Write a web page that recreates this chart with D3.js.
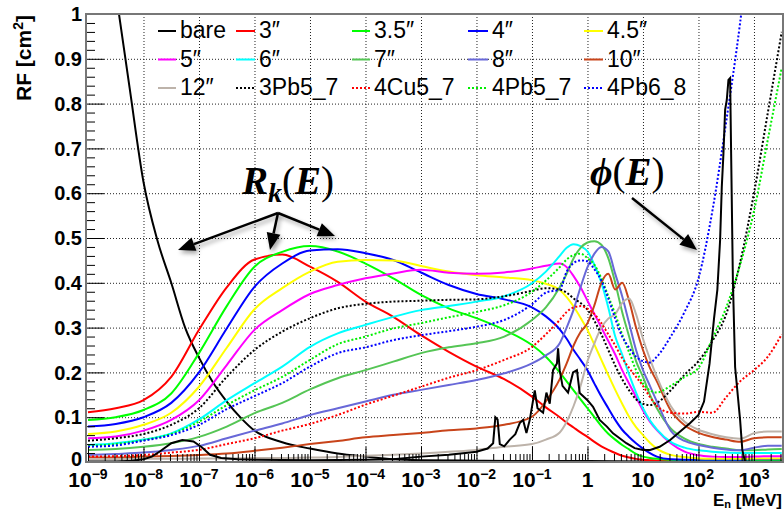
<!DOCTYPE html>
<html><head><meta charset="utf-8">
<script src="https://cdn.jsdelivr.net/npm/d3@7"></script>
<style>body{margin:0;background:#fff}svg{display:block}</style>
</head><body><svg id="c" width="784" height="510"></svg>
<script>
// ---- data (energies as log10(E/MeV)) ----
const logE = [-9,-8.5,-8,-7.5,-7,-6.5,-6,-5.5,-5,-4.5,-4,-3.5,-3,-2.5,-2,-1.5,-1,-0.75,-0.5,-0.375,-0.25,-0.125,0,0.125,0.25,0.375,0.5,0.625,0.75,0.875,1,1.125,1.25,1.5,1.75,2,2.25,2.5,2.75,3,3.25,3.5];
const rf3   = [0.111,0.12,0.138,0.19,0.295,0.39,0.452,0.463,0.436,0.402,0.358,0.324,0.283,0.246,0.213,0.185,0.146,0.122,0.10,0.088,0.077,0.066,0.056,0.045,0.035,0.027,0.02,0.014,0.01,0.007,0.005,0.004,0.003,0.002,0.002,0.002,0.002,0.002,0.002,0.002,0.002,0.002];
const rf35  = [0.094,0.10,0.116,0.153,0.243,0.348,0.436,0.469,0.482,0.47,0.443,0.41,0.373,0.343,0.321,0.295,0.261,0.235,0.2,0.18,0.16,0.14,0.12,0.1,0.08,0.063,0.05,0.038,0.028,0.018,0.012,0.009,0.007,0.005,0.004,0.003,0.003,0.003,0.003,0.003,0.003,0.003];
const rf4   = [0.079,0.085,0.10,0.132,0.2,0.298,0.391,0.443,0.472,0.475,0.466,0.451,0.423,0.395,0.375,0.363,0.345,0.325,0.296,0.275,0.25,0.228,0.205,0.175,0.146,0.12,0.094,0.072,0.056,0.042,0.03,0.02,0.012,0.006,0.005,0.005,0.005,0.005,0.005,0.006,0.006,0.006];
const rf45  = [0.0625,0.068,0.083,0.11,0.168,0.255,0.341,0.388,0.425,0.447,0.451,0.45,0.4375,0.425,0.417,0.412,0.406,0.398,0.384,0.368,0.347,0.322,0.295,0.262,0.228,0.194,0.161,0.13,0.101,0.078,0.06,0.043,0.03,0.016,0.011,0.008,0.007,0.007,0.007,0.008,0.008,0.008];
const rf5   = [0.053,0.057,0.07,0.094,0.138,0.2165,0.295,0.339,0.375,0.395,0.41,0.421,0.429,0.4225,0.42,0.423,0.432,0.438,0.443,0.435,0.415,0.39,0.36,0.33,0.3,0.27,0.24,0.205,0.175,0.145,0.115,0.09,0.071,0.042,0.023,0.015,0.012,0.011,0.011,0.012,0.013,0.013];
const rf6   = [0.038,0.042,0.05,0.064,0.095,0.138,0.176,0.213,0.257,0.287,0.306,0.324,0.339,0.348,0.358,0.37,0.399,0.425,0.46,0.478,0.486,0.482,0.47,0.44,0.4,0.345,0.28,0.24,0.195,0.155,0.12,0.093,0.073,0.045,0.032,0.026,0.023,0.021,0.02,0.02,0.02,0.02];
const rf7   = [0.027,0.029,0.034,0.042,0.056,0.079,0.109,0.132,0.162,0.187,0.205,0.224,0.243,0.256,0.265,0.28,0.317,0.345,0.39,0.42,0.455,0.478,0.49,0.493,0.485,0.455,0.4,0.335,0.28,0.225,0.19,0.15,0.12,0.075,0.052,0.04,0.034,0.03,0.026,0.026,0.028,0.029];
const rf8   = [0.0156,0.018,0.021,0.027,0.036,0.053,0.07,0.086,0.105,0.12,0.135,0.15,0.161,0.172,0.183,0.198,0.22,0.238,0.265,0.3,0.34,0.39,0.435,0.465,0.48,0.47,0.42,0.37,0.31,0.25,0.205,0.17,0.135,0.07,0.047,0.038,0.032,0.028,0.026,0.032,0.036,0.036];
const rf10  = [0.0104,0.01,0.012,0.0134,0.0156,0.019,0.025,0.032,0.04,0.047,0.055,0.06,0.065,0.071,0.075,0.083,0.101,0.135,0.185,0.22,0.26,0.29,0.31,0.35,0.4,0.42,0.385,0.4,0.36,0.3,0.25,0.21,0.18,0.115,0.082,0.065,0.056,0.05,0.045,0.053,0.055,0.055];
const rf12  = [0.006,0.006,0.007,0.007,0.008,0.008,0.009,0.009,0.01,0.011,0.014,0.016,0.019,0.023,0.027,0.034,0.04,0.05,0.066,0.09,0.125,0.17,0.225,0.265,0.3,0.32,0.33,0.355,0.365,0.33,0.275,0.23,0.19,0.125,0.09,0.072,0.062,0.055,0.052,0.064,0.068,0.068];
const rf3Pb57 = [0.0476,0.053,0.0625,0.083,0.12,0.19,0.25,0.291,0.321,0.343,0.353,0.358,0.36,0.362,0.363,0.37,0.382,0.388,0.385,0.378,0.365,0.355,0.34,0.315,0.285,0.25,0.215,0.185,0.16,0.14,0.13,0.127,0.132,0.16,0.195,0.225,0.27,0.33,0.445,0.6,0.78,0.96];
const rf4Cu57 = [0.012,0.013,0.0156,0.021,0.027,0.04,0.053,0.07,0.085,0.105,0.128,0.148,0.168,0.188,0.205,0.228,0.257,0.285,0.317,0.335,0.345,0.348,0.342,0.33,0.31,0.285,0.26,0.232,0.21,0.19,0.17,0.145,0.125,0.11,0.108,0.112,0.11,0.145,0.18,0.205,0.235,0.285];
const rf4Pb57 = [0.036,0.04,0.049,0.0625,0.09,0.127,0.16,0.19,0.228,0.263,0.28,0.298,0.31,0.323,0.335,0.35,0.38,0.405,0.435,0.452,0.462,0.465,0.455,0.44,0.41,0.37,0.33,0.285,0.245,0.205,0.175,0.16,0.155,0.17,0.19,0.21,0.275,0.345,0.44,0.56,0.72,0.88];
const rf4Pb68 = [0.034,0.037,0.0476,0.06,0.083,0.118,0.147,0.176,0.213,0.243,0.256,0.272,0.283,0.292,0.302,0.317,0.352,0.378,0.385,0.425,0.444,0.45,0.448,0.43,0.405,0.365,0.32,0.28,0.255,0.235,0.225,0.222,0.235,0.28,0.335,0.41,0.56,0.76,0.98,1.25,1.5,1.8];

const bareLogE = [-9,-8.75,-8.5,-8.25,-8,-7.75,-7.5,-7.25,-7,-6.75,-6.5,-6.25,-6,-5.5,-5,-4.5,-4,-3.5,-3,-2,-1,0,1,2,3,3.5];
const bareRF   = [1.5,1.27,1.05,0.835,0.625,0.495,0.40,0.30,0.233,0.178,0.135,0.099,0.07,0.044,0.03,0.019,0.012,0.006,0.004,0.003,0.002,0.002,0.001,0.001,0.0005,0.0005];

const phiLogE = [-9,-8.5,-8.2,-8,-7.85,-7.7,-7.5,-7.3,-7.1,-6.95,-6.8,-6.6,-6.3,-6,-5,-4,-3.5,-3,-2.5,-2.2,-2,-1.8,-1.7,-1.66,-1.62,-1.58,-1.5,-1.4,-1.3,-1.22,-1.16,-1.1,-1.04,-0.95,-0.9,-0.8,-0.74,-0.68,-0.62,-0.55,-0.53,-0.5,-0.45,-0.35,-0.26,-0.19,-0.14,0,0.1,0.22,0.35,0.46,0.58,0.7,0.85,1,1.13,1.3,1.49,1.67,1.85,2.0,2.1,2.2,2.28,2.34,2.39,2.42,2.45,2.48,2.51,2.54,2.57,2.59,2.62,2.66,2.75,2.79,2.84,3.5];
const phiVal  = [0.001,0.001,0.003,0.006,0.012,0.024,0.042,0.049,0.046,0.033,0.016,0.009,0.006,0.005,0.004,0.005,0.006,0.012,0.016,0.02,0.023,0.03,0.042,0.1,0.095,0.04,0.035,0.05,0.062,0.087,0.094,0.065,0.094,0.16,0.12,0.11,0.155,0.13,0.205,0.22,0.254,0.205,0.17,0.155,0.2,0.205,0.154,0.138,0.123,0.094,0.079,0.064,0.053,0.042,0.031,0.027,0.027,0.034,0.049,0.068,0.087,0.105,0.135,0.22,0.32,0.384,0.496,0.614,0.689,0.786,0.808,0.853,0.857,0.674,0.406,0.212,0.094,0.027,0,0];

const seriesNames = ["bare","3″","3.5″","4″","4.5″","5″","6″","7″","8″","10″","12″","3Pb5_7","4Cu5_7","4Pb5_7","4Pb6_8"];
const seriesValues = [null, rf3, rf35, rf4, rf45, rf5, rf6, rf7, rf8, rf10, rf12, rf3Pb57, rf4Cu57, rf4Pb57, rf4Pb68];
const xTickExps = [-9,-8,-7,-6,-5,-4,-3,-2,-1,0,1,2,3];
const yTicks = [0,0.1,0.2,0.3,0.4,0.5,0.6,0.7,0.8,0.9,1];
const yTickLabels = ["0","0.1","0.2","0.3","0.4","0.5","0.6","0.7","0.8","0.9","1"];

// ---- styles ----
const colors = ["#000000","#ff0000","#00ff00","#0000ff","#ffff00","#ff00ff","#00ffff","#55c555","#6868d8","#c8441a","#bdb3aa","#000000","#ff0000","#00ee00","#0000ff"];
const dotted = [false,false,false,false,false,false,false,false,false,false,false,true,true,true,true];

const L = 86, R = 783, T = 14, B = 462;
const svg = d3.select("#c");
const x = d3.scaleLog().domain([Math.pow(10,-9.036), Math.pow(10,3.523)]).range([L, R]);
const y = d3.scaleLinear().domain([0,1]).range([B, T]);

const defs = svg.append("defs");
defs.append("clipPath").attr("id","clip").append("rect").attr("x",L).attr("y",T).attr("width",R-L).attr("height",B-T+1);
const f = defs.append("filter").attr("id","shadow").attr("x","-20%").attr("y","-20%").attr("width","160%").attr("height","160%");
f.append("feDropShadow").attr("dx",2).attr("dy",3).attr("stdDeviation",2).attr("flood-color","#000").attr("flood-opacity",0.35);

// grid
const decades = xTickExps.map(e => Math.pow(10, e));
svg.append("g").attr("transform",`translate(0,${B})`)
  .call(d3.axisBottom(x).tickValues(decades.filter(v => v > 2e-9)).tickSize(-(B-T)).tickFormat(""))
  .call(g => g.select(".domain").remove())
  .call(g => g.selectAll("line").attr("stroke","#222").attr("stroke-dasharray","1,2").attr("stroke-width",1));
svg.append("g").attr("transform",`translate(${L},0)`)
  .call(d3.axisLeft(y).tickValues(yTicks.filter(v => v > 0 && v < 1)).tickSize(-(R-L)).tickFormat(""))
  .call(g => g.select(".domain").remove())
  .call(g => g.selectAll("line").attr("stroke","#222").attr("stroke-dasharray","1,2").attr("stroke-width",1));

// curves
const plot = svg.append("g").attr("clip-path","url(#clip)");
const line = d3.line().x(d => x(Math.pow(10, d[0]))).y(d => y(d[1])).curve(d3.curveMonotoneX);
const lineLin = d3.line().x(d => x(Math.pow(10, d[0]))).y(d => y(d[1]));

seriesNames.forEach((name, i) => {
  const data = i === 0 ? bareLogE.map((e, k) => [e, bareRF[k]]) : logE.map((e, k) => [e, seriesValues[i][k]]);
  plot.append("path").attr("d", line(data)).attr("fill","none")
    .attr("stroke", colors[i]).attr("stroke-width", 2)
    .attr("stroke-dasharray", dotted[i] ? "2,2" : null);
});
// spectrum phi(E)
plot.append("path").attr("d", lineLin(phiLogE.map((e, k) => [e, phiVal[k]]))).attr("fill","none")
  .attr("stroke","#000").attr("stroke-width",2).attr("stroke-linejoin","miter");

// ticks (inside)
const minors = [];
for (let e = -10; e <= 3; e++) for (let k = 2; k <= 9; k++) { const v = k * Math.pow(10, e); if (v > x.domain()[0] && v < x.domain()[1]) minors.push(v); }
svg.append("g").attr("transform",`translate(0,${B})`)
  .call(d3.axisBottom(x).tickValues(minors).tickSize(-8).tickFormat(""))
  .call(g => g.select(".domain").remove())
  .call(g => g.selectAll("line").attr("stroke","#000").attr("stroke-width",1));
svg.append("g").attr("transform",`translate(0,${B})`)
  .call(d3.axisBottom(x).tickValues(decades).tickSize(-15).tickFormat(""))
  .call(g => g.select(".domain").remove())
  .call(g => g.selectAll("line").attr("stroke","#000").attr("stroke-width",1));
const yMinor = d3.range(0, 1.0001, 0.02).filter(v => Math.abs(v*10 - Math.round(v*10)) > 1e-6);
svg.append("g").attr("transform",`translate(${L},0)`)
  .call(d3.axisLeft(y).tickValues(yMinor).tickSize(-9).tickFormat(""))
  .call(g => g.select(".domain").remove())
  .call(g => g.selectAll("line").attr("stroke","#000").attr("stroke-width",1));
svg.append("g").attr("transform",`translate(${L},0)`)
  .call(d3.axisLeft(y).tickValues(yTicks).tickSize(-18).tickFormat(""))
  .call(g => g.select(".domain").remove())
  .call(g => g.selectAll("line").attr("stroke","#000").attr("stroke-width",1));

// frame
svg.append("rect").attr("x",L).attr("y",T).attr("width",R-L).attr("height",B-T)
  .attr("fill","none").attr("stroke","#777").attr("stroke-width",2);

// tick labels
const fontSans = "'Liberation Sans', Arial, Helvetica, sans-serif";
svg.append("g").selectAll("text").data(yTicks).join("text")
  .attr("x", L - 4).attr("y", d => y(d) - (d === 0 ? 3 : 0)).attr("dy","0.36em")
  .attr("text-anchor","end").attr("font-family",fontSans).attr("font-weight","bold").attr("font-size",20)
  .text((d, i) => yTickLabels[i]);
const xl = svg.append("g").attr("font-family",fontSans).attr("font-weight","bold");
xTickExps.forEach(e => {
  const t = xl.append("text").attr("x", x(Math.pow(10, e))).attr("y", 487).attr("text-anchor","middle").attr("font-size",21);
  if (e === 0) t.text("1");
  else if (e === 1) t.text("10");
  else {
    t.append("tspan").text("10");
    t.append("tspan").attr("dy",-8).attr("font-size",14).text(e < 0 ? "\u2212" + (-e) : String(e));
  }
});

// axis titles
const xt = svg.append("text").attr("x", 782).attr("y", 506).attr("text-anchor","end")
  .attr("font-family",fontSans).attr("font-weight","bold").attr("font-size",17);
xt.append("tspan").text("E");
xt.append("tspan").attr("dy",2).attr("font-size",11).text("n");
xt.append("tspan").attr("dy",-2).text(" [MeV]");
const yt = svg.append("text").attr("transform","translate(31,15) rotate(-90)").attr("text-anchor","end")
  .attr("font-family",fontSans).attr("font-weight","bold").attr("font-size",21);
yt.append("tspan").text("RF [cm");
yt.append("tspan").attr("dy",-8).attr("font-size",14).text("2");
yt.append("tspan").attr("dy",8).text("]");

// legend
const legCols = [158, 236, 352, 468, 584];
const legLen = [18, 19, 18, 20, 19];
const legRows = [38, 66.5, 95];
const leg = svg.append("g").attr("font-family",fontSans).attr("font-size",23);
seriesNames.forEach((name, i) => {
  const c = i % 5, r = Math.floor(i / 5);
  const x0 = legCols[c], yb = legRows[r];
  leg.append("line").attr("x1", x0).attr("x2", x0 + legLen[c]).attr("y1", yb - 7).attr("y2", yb - 7)
    .attr("stroke", colors[i]).attr("stroke-width", 2).attr("stroke-dasharray", dotted[i] ? "2,2" : null);
  leg.append("text").attr("x", x0 + legLen[c] + 4).attr("y", yb).text(name);
});

// annotations
const serif = "'Liberation Serif', 'DejaVu Serif', 'Times New Roman', serif";
const rk = svg.append("text").attr("x", 242).attr("y", 194).attr("font-family", serif).attr("font-size", 39);
rk.append("tspan").attr("font-weight","bold").attr("font-style","italic").text("R");
rk.append("tspan").attr("dy", 8).attr("font-size", 28).attr("font-weight","bold").attr("font-style","italic").text("k");
rk.append("tspan").attr("dy", -8).text("(");
rk.append("tspan").attr("font-weight","bold").attr("font-style","italic").text("E");
rk.append("tspan").text(")");
const ph = svg.append("text").attr("x", 590).attr("y", 185).attr("font-family", serif).attr("font-size", 39);
ph.append("tspan").attr("font-weight","bold").attr("font-style","italic").text("\u03D5");
ph.append("tspan").text("(");
ph.append("tspan").attr("font-weight","bold").attr("font-style","italic").text("E");
ph.append("tspan").text(")");

function arrow(x1, y1, x2, y2) {
  const g = svg.append("g").attr("filter","url(#shadow)");
  const a = Math.atan2(y2 - y1, x2 - x1), len = 17, hw = 7;
  const bx = x2 - len * Math.cos(a), by = y2 - len * Math.sin(a);
  g.append("line").attr("x1", x1).attr("y1", y1).attr("x2", bx).attr("y2", by).attr("stroke","#000").attr("stroke-width",2.5);
  g.append("polygon").attr("points", [
    [x2, y2], [bx + hw * Math.sin(a), by - hw * Math.cos(a)], [bx - hw * Math.sin(a), by + hw * Math.cos(a)]
  ].map(p => p.join(",")).join(" ")).attr("fill","#000");
}
arrow(278, 213, 178, 250);
arrow(278, 213, 270, 250);
arrow(278, 213, 335, 236);
arrow(632, 198, 697, 250);
</script></body></html>
